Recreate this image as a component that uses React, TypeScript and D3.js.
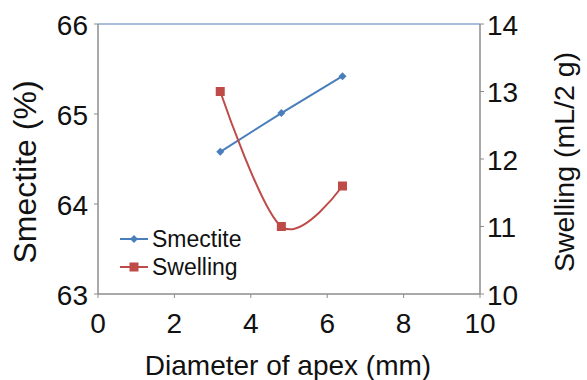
import React from "react";
import * as d3 from "d3";

const diameters = [3.2, 4.8, 6.4];
const smectite = [64.58, 65.01, 65.42];
const swelling = [13.0, 11.0, 11.6];
const xTicks = [0, 2, 4, 6, 8, 10];
const leftTicks = [63, 64, 65, 66];
const rightTicks = [10, 11, 12, 13, 14];

const W = 587;
const H = 380;
const M = { left: 98, right: 480, top: 24, bottom: 294 };
const FONT = "Liberation Sans, Arial, sans-serif";
const BLUE = "#4A7EBB";
const RED = "#BE4B48";
const AXIS = "#8c8c8c";

export default function App() {
  const x = d3.scaleLinear().domain([0, 10]).range([M.left, M.right]);
  const yL = d3.scaleLinear().domain([63, 66]).range([M.bottom, M.top]);
  const yR = d3.scaleLinear().domain([10, 14]).range([M.bottom, M.top]);

  const smLine = d3
    .line<number>()
    .x((_, i) => x(diameters[i]))
    .y((d) => yL(d))(smectite) as string;
  const swLine = d3
    .line<number>()
    .curve(d3.curveCatmullRom.alpha(0))
    .x((_, i) => x(diameters[i]))
    .y((d) => yR(d))(swelling) as string;

  const diamond = (cx: number, cy: number, r: number) =>
    `M${cx},${cy - r}L${cx + r},${cy}L${cx},${cy + r}L${cx - r},${cy}Z`;

  return (
    <div style={{ position: "absolute", left: 0, top: 0 }}>
      <svg width={W} height={H} style={{ display: "block", background: "#fff" }} fontFamily={FONT}>
        {/* top border */}
        <line x1={M.left} x2={M.right} y1={M.top} y2={M.top} stroke="#8FA7D2" strokeWidth={1.5} />
        {/* axes */}
        <line x1={M.left} x2={M.left} y1={M.top} y2={M.bottom} stroke={AXIS} strokeWidth={1.5} />
        <line x1={M.right} x2={M.right} y1={M.top} y2={M.bottom} stroke={AXIS} strokeWidth={1.5} />
        <line x1={M.left} x2={M.right} y1={M.bottom} y2={M.bottom} stroke={AXIS} strokeWidth={1.5} />
        {xTicks.map((t) => (
          <g key={"x" + t}>
            <line x1={x(t)} x2={x(t)} y1={M.bottom} y2={M.bottom + 4} stroke={AXIS} />
            <text x={x(t)} y={333} textAnchor="middle" fontSize={28} fill="#111">
              {t}
            </text>
          </g>
        ))}
        {leftTicks.map((t) => (
          <g key={"l" + t}>
            <line x1={M.left - 4} x2={M.left} y1={yL(t)} y2={yL(t)} stroke={AXIS} />
            <text x={88} y={yL(t) + 10.5} textAnchor="end" fontSize={28} fill="#111">
              {t}
            </text>
          </g>
        ))}
        {rightTicks.map((t) => (
          <g key={"r" + t}>
            <line x1={M.right} x2={M.right + 4} y1={yR(t)} y2={yR(t)} stroke={AXIS} />
            <text x={487} y={yR(t) + 10.5} textAnchor="start" fontSize={28} fill="#111">
              {t}
            </text>
          </g>
        ))}
        <text x={288} y={375} textAnchor="middle" fontSize={28} fill="#111">
          Diameter of apex (mm)
        </text>
        <text transform={`translate(36,172) rotate(-90)`} textAnchor="middle" fontSize={32} fill="#111">
          Smectite (%)
        </text>
        <text transform={`translate(574,162) rotate(-90)`} textAnchor="middle" fontSize={28.5} fill="#111">
          Swelling (mL/2 g)
        </text>

        <path d={smLine} fill="none" stroke={BLUE} strokeWidth={2} />
        {smectite.map((v, i) => (
          <path key={"sm" + i} d={diamond(x(diameters[i]), yL(v), 4)} fill={BLUE} />
        ))}
        <path d={swLine} fill="none" stroke={RED} strokeWidth={2} />
        {swelling.map((v, i) => (
          <rect key={"sw" + i} x={x(diameters[i]) - 4.5} y={yR(v) - 4.5} width={9} height={9} fill={RED} />
        ))}

        {/* legend */}
        <line x1={120} x2={148} y1={239} y2={239} stroke={BLUE} strokeWidth={2} />
        <path d={diamond(134, 239, 4)} fill={BLUE} />
        <text x={152} y={247} fontSize={23} fill="#111">Smectite</text>
        <line x1={120} x2={148} y1={267} y2={267} stroke={RED} strokeWidth={2} />
        <rect x={129.5} y={262.5} width={9} height={9} fill={RED} />
        <text x={152} y={275} fontSize={23} fill="#111">Swelling</text>
      </svg>
    </div>
  );
}
